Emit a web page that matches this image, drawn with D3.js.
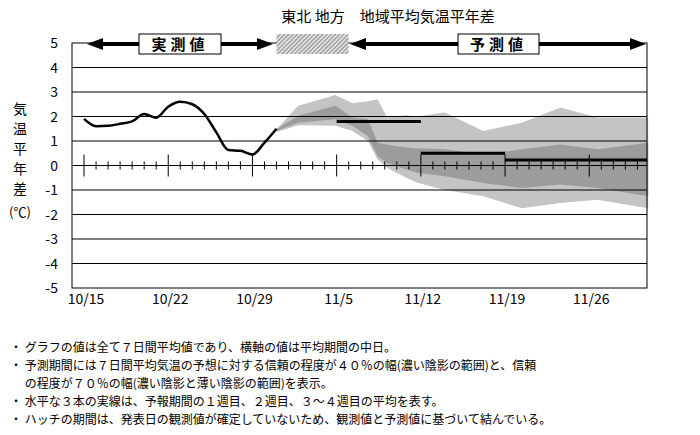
<!DOCTYPE html><html><head><meta charset="utf-8"><script src="https://d3js.org/d3.v7.min.js"></script>
<style>body{margin:0;background:#fff}</style></head><body><svg id="c" width="700" height="435"></svg>
<script>
const yTicks=[5,4,3,2,1,0,-1,-2,-3,-4,-5];
const xLabels=["10/15","10/22","10/29","11/5","11/12","11/19","11/26"];
const xLabelDays=[0,7,14,21,28,35,42];
const obsDays=[0,1,2,3,4,5,6,7,8,9,10,11,12,13,14,15,16];
const obsVals=[1.9,1.6,1.62,1.7,1.8,2.1,1.95,2.4,2.6,2.5,2.1,1.35,0.63,0.6,0.45,0.93,1.5];
const bandDays=[16,17.8,20.9,22.3,23.6,24.4,25.2,26.8,27.7,30,33.2,36.4,39.6,42.7,46.9];
const outerUp=[1.48,2.44,2.88,2.55,2.62,2.7,1.96,2.05,2.0,2.16,1.41,1.75,2.37,1.96,1.96];
const innerUp=[1.48,2.03,2.44,1.96,1.9,0.93,0.85,0.73,0.7,0.66,0.45,0.66,0.86,0.66,0.93];
const innerLo=[1.41,1.75,1.89,1.62,1.2,0.38,0.1,-0.16,-0.3,-0.44,-0.71,-0.92,-0.78,-0.92,-1.26];
const outerLo=[1.37,1.64,1.62,1.41,1.0,0.25,-0.1,-0.5,-0.7,-1.0,-1.26,-1.74,-1.53,-1.4,-1.74];
const barStart=[21,28,35], barEnd=[28,35,46.8], barVals=[1.8,0.5,0.22];
const notes=["・ グラフの値は全て７日間平均値であり、横軸の値は平均期間の中日。",
"・ 予測期間には７日間平均気温の予想に対する信頼の程度が４０％の幅(濃い陰影の範囲)と、信頼",
"　 の程度が７０％の幅(濃い陰影と薄い陰影の範囲)を表示。",
"・ 水平な３本の実線は、予報期間の１週目、２週目、３～４週目の平均を表す。",
"・ ハッチの期間は、発表日の観測値が確定していないため、観測値と予測値に基づいて結んでいる。"];
const F='"Noto Sans CJK JP",sans-serif';
const svg=d3.select("#c");
const L=72,R=647,T=43,B=288;
const x=d3.scaleLinear().domain([-1,46.8]).range([L,R]);
const y=d3.scaleLinear().domain([-5,5]).range([B,T]);
const area=(u,l)=>d3.area().x((d,i)=>x(bandDays[i])).y0((d,i)=>y(l[i])).y1((d,i)=>y(u[i]))(bandDays);
svg.append("path").attr("d",area(outerUp,outerLo)).attr("fill","#c4c4c4");
svg.append("path").attr("d",area(innerUp,innerLo)).attr("fill","#9c9c9c");
yTicks.forEach(v=>{ if(v!==5&&v!==-5&&v!==0) svg.append("line").attr("x1",L).attr("x2",R).attr("y1",y(v)).attr("y2",y(v)).attr("stroke","#000").attr("stroke-width",1);
 svg.append("text").attr("x",58).attr("y",y(v)+5).attr("text-anchor","end").attr("font-family",F).attr("font-size",14).text(v);});
svg.append("rect").attr("x",L).attr("y",T).attr("width",R-L).attr("height",B-T).attr("fill","none").attr("stroke","#000");
svg.append("line").attr("x1",L).attr("x2",R).attr("y1",y(0)).attr("y2",y(0)).attr("stroke","#000");
d3.range(0,47).forEach(d=>{const maj=d%7===0;svg.append("line").attr("x1",x(d)).attr("x2",x(d)).attr("y1",y(0)-(maj?11:4)).attr("y2",y(0)+(maj?11:4)).attr("stroke","#000");});
svg.append("path").attr("d",d3.line().x((d,i)=>x(d)).y((d,i)=>y(obsVals[i])).curve(d3.curveMonotoneX)(obsDays)).attr("fill","none").attr("stroke","#000").attr("stroke-width",2.5);
barVals.forEach((v,i)=>svg.append("line").attr("x1",x(barStart[i])).attr("x2",x(barEnd[i])).attr("y1",y(v)).attr("y2",y(v)).attr("stroke","#000").attr("stroke-width",3));
xLabels.forEach((t,i)=>svg.append("text").attr("x",x(xLabelDays[i])+2).attr("y",304).attr("text-anchor","middle").attr("font-family",F).attr("font-size",14).text(t));
// header
const defs=svg.append("defs");
const p=defs.append("pattern").attr("id","h").attr("width",3).attr("height",3).attr("patternUnits","userSpaceOnUse").attr("patternTransform","rotate(45)");
p.append("rect").attr("width",3).attr("height",3).attr("fill","#ddd");p.append("line").attr("x1",0).attr("x2",0).attr("y1",0).attr("y2",3).attr("stroke","#777").attr("stroke-width",1.5);
svg.append("rect").attr("x",x(16)).attr("y",34).attr("width",x(22)-x(16)).attr("height",20).attr("fill","url(#h)");
function arrow(a,b){svg.append("line").attr("x1",a+12).attr("x2",b-12).attr("y1",44).attr("y2",44).attr("stroke","#000").attr("stroke-width",4);
 svg.append("path").attr("d",`M${a},44L${a+16},38L${a+16},50Z M${b},44L${b-16},38L${b-16},50Z`).attr("fill","#000");}
arrow(87,273);arrow(350,646);
[[139,221,"実測値"],[458,539,"予測値"]].forEach(([a,b,t])=>{svg.append("rect").attr("x",a).attr("y",34).attr("width",b-a).attr("height",20).attr("fill","#fff").attr("stroke","#000");
 svg.append("text").attr("x",(a+b)/2).attr("y",50).attr("text-anchor","middle").attr("font-family",F).attr("font-weight","bold").attr("font-size",15).attr("letter-spacing",4).text(t);});
svg.append("text").attr("x",388).attr("y",22).attr("text-anchor","middle").attr("font-family",F).attr("font-size",15).text("東北 地方　地域平均気温平年差");
["気","温","平","年","差"].forEach((c,i)=>svg.append("text").attr("x",20).attr("y",114+i*20).attr("text-anchor","middle").attr("font-family",F).attr("font-size",14).text(c));
svg.append("text").attr("x",20).attr("y",217).attr("text-anchor","middle").attr("font-family",F).attr("font-size",13).text("(℃)");
notes.forEach((t,i)=>svg.append("text").attr("x",10).attr("y",352+i*18).attr("font-family",F).attr("font-size",12).text(t));
</script></body></html>
